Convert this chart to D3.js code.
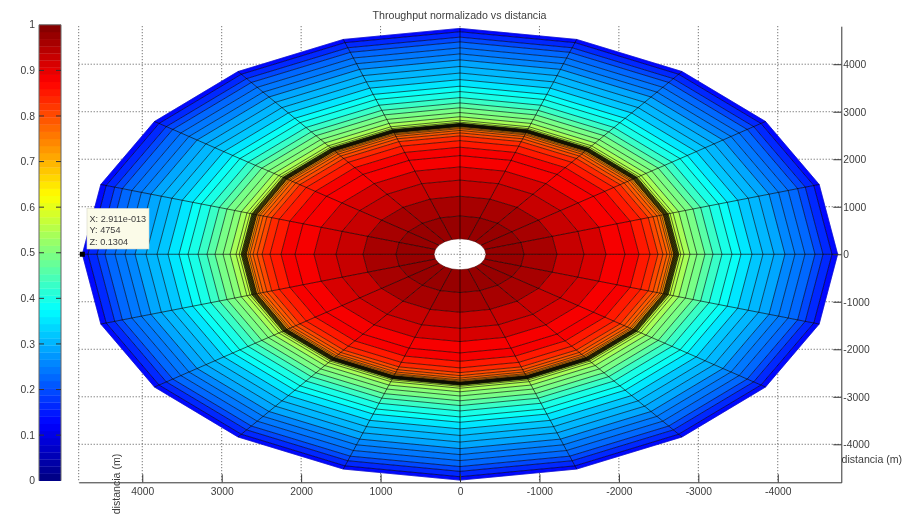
<!DOCTYPE html>
<html>
<head>
<meta charset="utf-8">
<script src="https://cdn.jsdelivr.net/npm/d3@7/dist/d3.min.js"></script>
<style>
html,body{margin:0;padding:0;background:#fff;overflow:hidden}
svg{display:block;filter:blur(0.4px)}
text{font-family:"Liberation Sans",Arial,sans-serif;fill:#3c3c3c}
</style>
</head>
<body>
<script>
const titleText = "Throughput normalizado vs distancia";
const axisLabel = "distancia (m)";
const xTicks = [4000,3000,2000,1000,0,-1000,-2000,-3000,-4000];
const yTicks = [4000,3000,2000,1000,0,-1000,-2000,-3000,-4000];
const colorbarTicks = [0,0.1,0.2,0.3,0.4,0.5,0.6,0.7,0.8,0.9,1];
const spokeAngles = [0,18,36,54,72,90,108,126,144,162,180,198,216,234,252,270,288,306,324,342];
const ringRadii = [327,806,1221,1561,1838,2077,2253,2392,2492,2555,2606,2644,2668,2690,2698,2706,2714,2722,2730,2738,2746,2755,2780,2820,2895,2983,3084,3185,3298,3424,3537,3676,3814,3953,4091,4217,4343,4469,4570,4683,4754];
const ringValues = [0.975,0.955,0.935,0.915,0.89,0.875,0.855,0.83,0.81,0.79,0.775,0.755,0.73,0.71,0.69,0.67,0.65,0.63,0.62,0.60,0.59,0.575,0.56,0.545,0.515,0.485,0.455,0.425,0.40,0.375,0.35,0.325,0.305,0.285,0.265,0.245,0.22,0.19,0.165,0.14];
const tipLines = ["X: 2.911e-013","Y: 4754","Z: 0.1304"];
const tipPoint = {along:4754, across:0};

const W=907,H=518;
const svg=d3.select("body").append("svg").attr("width",W).attr("height",H);
const x=d3.scaleLinear().domain([4800,-4800]).range([78.7,841.3]);
const y=d3.scaleLinear().domain([-4800,4800]).range([482.3,26.2]);
const cbY=d3.scaleLinear().domain([0,1]).range([480.7,24.8]);

const jetStops=[[0,0,0,0.5],[0.125,0,0,1],[0.375,0,1,1],[0.625,1,1,0],[0.875,1,0,0],[1,0.5,0,0]];
const jetScale=d3.scaleLinear().domain(jetStops.map(d=>d[0])).range(jetStops.map(d=>d3.rgb(d[1]*255,d[2]*255,d[3]*255))).interpolate(d3.interpolateRgb);
const levels=64;
const jet=v=>jetScale((Math.min(levels-1,Math.floor(v*levels))+0.5)/levels);

// grid
const grid=svg.append("g").attr("fill","none").attr("stroke","#555").attr("stroke-dasharray","1 2");
grid.selectAll("line.v").data(xTicks).join("line").attr("class","v")
  .attr("x1",d=>x(d)).attr("x2",d=>x(d)).attr("y1",y.range()[1]).attr("y2",y.range()[0]);
grid.selectAll("line.h").data(yTicks).join("line").attr("class","h")
  .attr("y1",d=>y(d)).attr("y2",d=>y(d)).attr("x1",x.range()[0]).attr("x2",x.range()[1]);
grid.append("line").attr("x1",x.range()[0]).attr("x2",x.range()[0]).attr("y1",y.range()[1]).attr("y2",y.range()[0]);

// surface
const rad=d=>d*Math.PI/180;
const pt=(r,a)=>[x(r*Math.cos(rad(a))),y(r*Math.sin(rad(a)))];
const line=d3.line().curve(d3.curveLinearClosed);
const quads=[];
ringValues.forEach((v,i)=>{
  spokeAngles.forEach((a,j)=>{
    const b=spokeAngles[(j+1)%spokeAngles.length];
    quads.push({v,p:[pt(ringRadii[i],a),pt(ringRadii[i+1],a),pt(ringRadii[i+1],b),pt(ringRadii[i],b)]});
  });
});
svg.append("g").selectAll("path").data(quads).join("path")
  .attr("d",d=>line(d.p)).attr("fill",d=>jet(d.v)).attr("stroke",d=>jet(d.v)).attr("stroke-width",0.4);
const edges=svg.append("g").attr("fill","none").attr("stroke-linejoin","round");
const dense=i=>i>0&&i<ringRadii.length-1&&(ringRadii[i+1]-ringRadii[i]<12||ringRadii[i]-ringRadii[i-1]<12);
edges.selectAll("path.ring").data(ringRadii).join("path").attr("class","ring")
  .attr("d",r=>line(spokeAngles.map(a=>pt(r,a))))
  .attr("stroke",(r,i)=>i===ringRadii.length-1?"#0000c0":"#000")
  .attr("stroke-width",(r,i)=>i===0?0.3:dense(i)?0.75:0.7)
  .attr("stroke-opacity",(r,i)=>dense(i)?1:0.85);
edges.selectAll("line.spoke").data(spokeAngles).join("line").attr("class","spoke")
  .attr("x1",a=>pt(ringRadii[0],a)[0]).attr("y1",a=>pt(ringRadii[0],a)[1])
  .attr("x2",a=>pt(ringRadii[ringRadii.length-1],a)[0]).attr("y2",a=>pt(ringRadii[ringRadii.length-1],a)[1])
  .attr("stroke","#000").attr("stroke-width",0.75).attr("stroke-opacity",0.85);

// axes
const axR=d3.axisRight(y).tickValues(yTicks).tickFormat(String).tickSizeInner(-8).tickSizeOuter(0).tickPadding(2);
const gR=svg.append("g").attr("transform",`translate(${x.range()[1]},0)`).call(axR);
const axB=d3.axisBottom(x).tickValues(xTicks).tickFormat(String).tickSizeInner(-8).tickSizeOuter(0).tickPadding(5);
const gB=svg.append("g").attr("transform",`translate(0,${y.range()[0]})`).call(axB);
[gR,gB].forEach(g=>{
  g.selectAll("path,line").attr("stroke","#333");
  g.selectAll("text").attr("font-size",10.3).attr("fill","#3c3c3c").attr("font-family",'"Liberation Sans",Arial,sans-serif');
});

// colorbar
const cbX0=39,cbX1=61;
const cb=svg.append("g");
cb.selectAll("rect").data(d3.range(levels)).join("rect")
  .attr("x",cbX0).attr("width",cbX1-cbX0)
  .attr("y",d=>cbY((d+1)/levels)).attr("height",d=>cbY(d/levels)-cbY((d+1)/levels)+0.3)
  .attr("fill",d=>jet((d+0.5)/levels));
cb.append("path").attr("d",`M${cbX0},${cbY(0)}V${cbY(1)}H${cbX1}V${cbY(0)}`).attr("fill","none").attr("stroke","#666");
const cbG=cb.append("g").selectAll("g").data(colorbarTicks).join("g").attr("transform",d=>`translate(0,${cbY(d)})`);
cbG.filter(d=>d>0&&d<1).append("path").attr("d",`M${cbX0},0h5M${cbX1-5},0h5`).attr("stroke","#333").attr("fill","none");
cbG.append("text").attr("x",35).attr("dy","0.35em").attr("text-anchor","end").attr("font-size",10.4).text(d=>String(d));

// title and labels
svg.append("text").attr("x",459.5).attr("y",18.5).attr("text-anchor","middle").attr("font-size",10.65).text(titleText);
svg.append("text").attr("transform","translate(120,484) rotate(-90)").attr("text-anchor","middle").attr("font-size",10.6).text(axisLabel);
svg.append("text").attr("x",841.5).attr("y",462.5).attr("font-size",10.6).text(axisLabel);

// data tip
const tx=x(tipPoint.along),ty=y(tipPoint.across);
svg.append("rect").attr("x",tx-2.5).attr("y",ty-2.5).attr("width",5).attr("height",5).attr("fill","#000");
const tip=svg.append("g");
tip.append("rect").attr("x",87).attr("y",208.5).attr("width",62).attr("height",40.5).attr("fill","#fbfbe8").attr("stroke","#d8d8c8").attr("stroke-width",0.6);
tip.selectAll("text").data(tipLines).join("text").attr("x",89.5).attr("y",(d,i)=>221.5+i*11.7).attr("font-size",9.15).attr("fill","#222").text(d=>d);
</script>
</body>
</html>
